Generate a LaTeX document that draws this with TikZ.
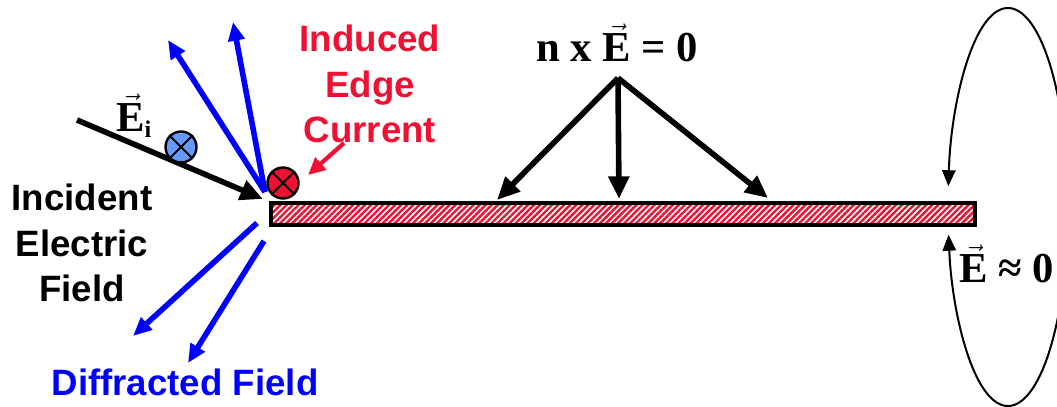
\documentclass[tikz,border=0pt]{standalone}
\usepackage{amsmath}
\usepackage{fontspec}
\usetikzlibrary{arrows.meta, patterns.meta}
\newfontfamily\sansfam{Liberation Sans}
\newfontfamily\seriffam{Liberation Serif}
\definecolor{myred}{HTML}{EE1133}
\definecolor{myblue}{HTML}{0000FF}
\definecolor{mylightblue}{HTML}{6699FF}

\begin{document}
\begin{tikzpicture}[
    x=0.75pt, y=-0.75pt, % one unit = one pixel of the original, y down
    label text/.style={font=\sansfam\bfseries\fontsize{27.5}{34}\selectfont, align=center, inner sep=0pt},
    math text/.style={font=\seriffam\bfseries\fontsize{32}{36}\selectfont, inner sep=0pt},
    field arrow/.style={line width=4.2pt, -{Triangle[length=17pt, width=15pt]}},
    diff arrow/.style={myblue, line width=4.2pt, -{Triangle[length=14pt, width=12pt]}},
    loop arrow/.style={line width=1.5pt, -{Triangle[length=12pt, width=10pt]}},
    current dot/.style={circle, draw, line width=1.8pt, minimum size=31*0.75pt, inner sep=0pt}
]
    \useasboundingbox (0,0) rectangle (1057,407);

    % --- the conducting plate ---
    \fill[white] (271,203) rectangle (975,225);
    \pattern[pattern={Lines[angle=45, distance=3.2pt, line width=1.8pt]}, pattern color=myred]
        (271,203) rectangle (975,225);
    \draw[line width=3pt] (271,203) rectangle (975,225);

    % --- points used by the connectors ---
    \coordinate (edge) at (263,199);
    \coordinate (inc start) at (77,120);
    \coordinate (up start) at (265,192);
    \coordinate (up a) at (168,40);
    \coordinate (up b) at (233,22);
    \coordinate (down a start) at (257,223);
    \coordinate (down a) at (133,336);
    \coordinate (down b start) at (264,241);
    \coordinate (down b) at (188,363);
    \coordinate (apex) at (618,78);
    \coordinate (hit a) at (497,200);
    \coordinate (hit b) at (619,199);
    \coordinate (hit c) at (768,198);
    \coordinate (red start) at (344,143);
    \coordinate (red end) at (308,175);

    % --- diffracted field ---
    \draw[diff arrow] (up start) -- (up a);
    \draw[diff arrow] (up start) -- (up b);
    \draw[diff arrow] (down a start) -- (down a);
    \draw[diff arrow] (down b start) -- (down b);

    % --- incident field ---
    \draw[field arrow] (inc start) -- (edge);
    \node[current dot, fill=mylightblue] (einc) at (181,147) {};
    \draw[line width=1.5pt] (einc.north west) -- (einc.south east) (einc.north east) -- (einc.south west);

    % --- edge current ---
    \node[current dot, fill=myred] (jedge) at (283,183) {};
    \draw[line width=1.5pt] (jedge.north west) -- (jedge.south east) (jedge.north east) -- (jedge.south west);
    \draw[myred, line width=3.2pt, -{Triangle[length=13pt, width=12pt]}] (red start) -- (red end);

    % --- tangential field vanishes on the plate ---
    \draw[field arrow] (apex) -- (hit a);
    \draw[field arrow] (apex) -- (hit b);
    \draw[field arrow] (apex) -- (hit c);

    % --- field loop round the far end ---
    \begin{scope}
        \clip (0,0) rectangle (1057,407);
        \draw[loop arrow] (1008,207) ++(330:60 and 199) arc[start angle=330, end angle=186, x radius=60, y radius=199];
        \draw[loop arrow] (1008,207) ++(30:60 and 199) arc[start angle=30, end angle=172, x radius=60, y radius=199];
    \end{scope}

    % --- labels ---
    \node[label text, text=myred] (current) at (370,84) {Induced\\Edge\\Current};
    \node[label text] (incident) at (82,243) {Incident\\Electric\\Field};
    \node[label text, text=myblue] (diffracted) at (185,382) {Diffracted Field};
    \node[math text] (nxe) at (617,43) {n x $\vec{\mbox{E}}$ = 0};
    \node[math text, anchor=west] (ezero) at (959,264) {$\vec{\mbox{E}}$ \char"2248{} 0};
    \node[math text, anchor=base west] (ei) at (116,131) {$\vec{\mbox{E}}$\raisebox{-5pt}{\fontsize{18}{20}\selectfont i}};
\end{tikzpicture}
\end{document}
